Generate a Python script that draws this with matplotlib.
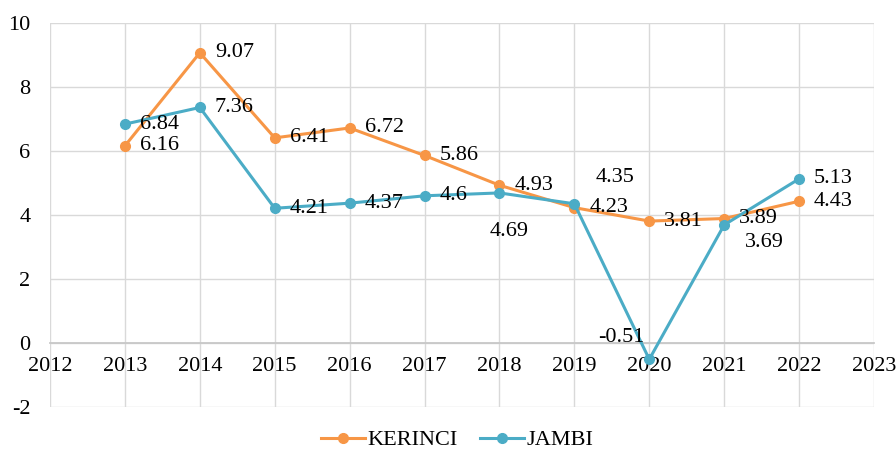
import matplotlib
matplotlib.use("Agg")
import matplotlib.pyplot as plt

years = [2013, 2014, 2015, 2016, 2017, 2018, 2019, 2020, 2021, 2022]
kerinci = [6.16, 9.07, 6.41, 6.72, 5.86, 4.93, 4.23, 3.81, 3.89, 4.43]
jambi = [6.84, 7.36, 4.21, 4.37, 4.6, 4.69, 4.35, -0.51, 3.69, 5.13]

ORANGE = "#F79646"
BLUE = "#4BACC6"
GRID = "#d9d9d9"

plt.rcParams['font.family'] = ['Liberation Serif', 'DejaVu Serif']
plt.rcParams['axes.unicode_minus'] = False

fig = plt.figure(figsize=(8.96, 4.55), dpi=100)
ax = fig.add_axes([50/896, 48/455, 824/896, 384/455])

ax.plot(years, kerinci, color=ORANGE, lw=2.2, marker='o', ms=7, label='KERINCI', zorder=3)
ax.plot(years, jambi, color=BLUE, lw=2.2, marker='o', ms=7, label='JAMBI', zorder=3)

ax.set_xlim(2012, 2023)
ax.set_ylim(-2, 10)
ax.set_xticks(range(2012, 2024))
ax.set_yticks(range(-2, 11, 2))
ax.grid(True, color=GRID, lw=1)
ax.set_axisbelow(True)
for s in ['top', 'right', 'left']:
    ax.spines[s].set_visible(False)
ax.spines['bottom'].set_position(('data', 0))
ax.spines['bottom'].set_color('#c8c8c8')
ax.spines['bottom'].set_linewidth(1.3)
ax.tick_params(length=0, labelsize=16, colors='black')
ax.tick_params(axis='y', pad=14)
ax.tick_params(axis='x', pad=10)

# data labels, default to the right of the point
fs = 16
for x, y in zip(years, kerinci):
    ax.annotate(f"{y:g}", (x, y), xytext=(15, 0), textcoords='offset pixels',
                ha='left', va='center', fontsize=fs)

special = {2018: (10, -39, 'center'), 2019: (41, 26, 'center'),
           2020: (-28, 22, 'center'), 2021: (40, -18, 'center')}
for x, y in zip(years, jambi):
    dx, dy, ha = special.get(x, (15, 0, 'left'))
    ax.annotate(f"{y:g}", (x, y), xytext=(dx, dy), textcoords='offset pixels',
                ha=ha, va='center', fontsize=fs)

fig.legend(loc='center', bbox_to_anchor=(0.51, 15/455), ncol=2, frameon=False,
           fontsize=16, handlelength=2.0, handletextpad=0.1, columnspacing=1.0)

fig.savefig("out.png", dpi=100)
